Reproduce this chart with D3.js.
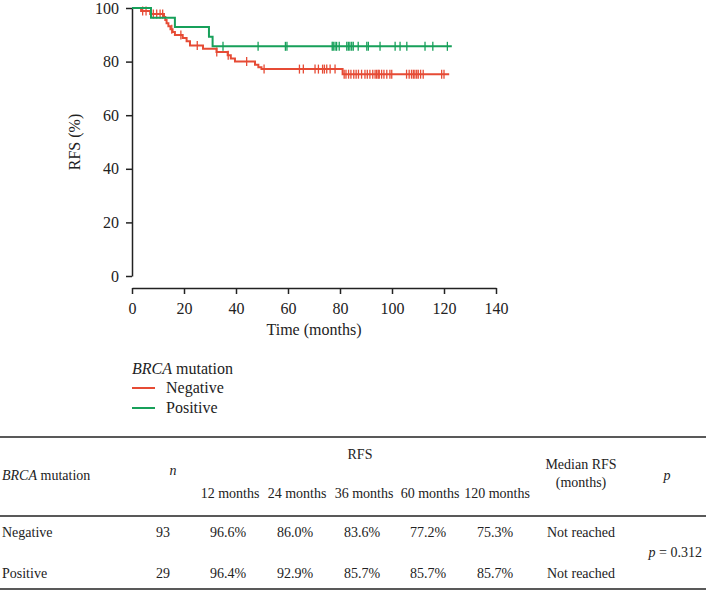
<!DOCTYPE html>
<html>
<head>
<script src="https://cdnjs.cloudflare.com/ajax/libs/d3/7.8.5/d3.min.js"></script>
<style>
  body { margin: 0; background: #fff; }
  text { font-family: "Liberation Serif", "DejaVu Serif", serif; fill: #222; }
</style>
</head>
<body>
<script>
// step points [month, RFS %]
const negSteps = [[0,100],[3.5,98.9],[7,97.8],[12.3,96.6],[12.8,95.5],[13.3,94.3],[14,93.2],[14.8,92.1],
  [15.6,91],[16.5,89.9],[19.5,88.8],[21,87.6],[22.3,86.0],[27.3,84.8],[32.5,83.6],[36.8,82.4],[38,81.2],
  [39.6,80.0],[47.3,78.8],[48.6,77.9],[49.8,77.2],[81,75.3],[122,75.3]];
const posSteps = [[0,100],[7.3,96.4],[16.5,92.9],[29.6,89.3],[31,85.7],[123,85.7]];

// censored times
const negCensor = [4.1,5.4,8.2,9.5,10.8,11.8,15.3,18.8,25.1,32.6,37,44.1,50.8,64.4,65.9,70.4,71.7,73.3,74,
  74.9,76.2,78.1,81.6,82.3,83.3,84.2,85.3,86.2,87.1,88.3,89.6,90.5,91.5,92.6,93.5,94.1,94.7,95.1,96,96.9,
  98,99.2,99.9,105.6,106.6,107.5,108.2,108.8,109.5,110.1,111,112,119.1,120];
const posCensor = [35,48.5,59,59.6,77,77.4,78.1,78.7,79.7,82.6,83.2,83.8,84.5,85.1,87,90.3,90.9,95.4,
  101.2,103.1,105.7,112.7,115.7,121.3];

const xTicks = [0,20,40,60,80,100,120,140];
const yTicks = [0,20,40,60,80,100];

const groups = ["Negative", "Positive"];
const colors = ["#e64b35", "#17a05a"];

// table
const timepoints = ["12 months","24 months","36 months","60 months","120 months"];
const nValues = [93, 29];
const rfsValues = [["96.6%","86.0%","83.6%","77.2%","75.3%"], ["96.4%","92.9%","85.7%","85.7%","85.7%"]];
const medianValues = ["Not reached", "Not reached"];
const pValue = "0.312";

const svg = d3.select("body").append("svg")
    .attr("width", 706)
    .attr("height", 591);

const x = d3.scaleLinear().domain([0, 140]).range([132, 496]);
const y = d3.scaleLinear().domain([0, 100]).range([276, 8]);

// y axis
const yAxis = svg.append("g")
    .attr("transform", "translate(132,0)")
    .call(d3.axisLeft(y).tickValues(yTicks).tickSize(6).tickPadding(7).tickSizeOuter(0));
// x axis, offset below
const xAxis = svg.append("g")
    .attr("transform", "translate(0,288)")
    .call(d3.axisBottom(x).tickValues(xTicks).tickSize(6).tickSizeOuter(0));

[yAxis, xAxis].forEach(function(a){
    a.select(".domain").attr("stroke", "#222").attr("stroke-width", 1.5);
    a.selectAll(".tick line").attr("stroke", "#222").attr("stroke-width", 1.5);
    a.selectAll(".tick text").style("font-size", "16px").attr("fill", "#222")
        .style("font-family", "Liberation Serif, serif");
});
xAxis.selectAll(".tick text").attr("dy", "1.05em");

svg.append("text")
    .attr("transform", "translate(80,142) rotate(-90)")
    .attr("text-anchor", "middle")
    .style("font-size", "16px")
    .text("RFS (%)");
svg.append("text")
    .attr("x", 314).attr("y", 335)
    .attr("text-anchor", "middle")
    .style("font-size", "16px")
    .text("Time (months)");

// curves
const stepLine = d3.line()
    .x(function(d){ return x(d[0]); })
    .y(function(d){ return y(d[1]); })
    .curve(d3.curveStepAfter);

function survAt(steps, t) {
    let v = steps[0][1];
    steps.forEach(function(s){ if (s[0] <= t) v = s[1]; });
    return v;
}

const curves = [[negSteps, negCensor], [posSteps, posCensor]];
curves.forEach(function(c, i){
    svg.append("path")
        .attr("d", stepLine(c[0]))
        .attr("fill", "none")
        .attr("stroke", colors[i])
        .attr("stroke-width", 2);
    svg.append("g").selectAll("line")
        .data(c[1])
        .enter()
        .append("line")
            .attr("x1", function(d){ return x(d); })
            .attr("x2", function(d){ return x(d); })
            .attr("y1", function(d){ return y(survAt(c[0], d)) - 4.5; })
            .attr("y2", function(d){ return y(survAt(c[0], d)) + 4.5; })
            .attr("stroke", colors[i])
            .attr("stroke-width", 1.3);
});

// legend
const legendTitle = svg.append("text")
    .attr("x", 132).attr("y", 374)
    .style("font-size", "16px");
legendTitle.append("tspan").style("font-style", "italic").text("BRCA");
legendTitle.append("tspan").text(" mutation");

groups.forEach(function(g, i){
    const ly = 388 + i * 20;
    svg.append("line")
        .attr("x1", 132).attr("x2", 155)
        .attr("y1", ly).attr("y2", ly)
        .attr("stroke", colors[i]).attr("stroke-width", 2);
    svg.append("text")
        .attr("x", 166).attr("y", ly + 5)
        .style("font-size", "16px")
        .text(g);
});

// table
const tbl = svg.append("g").style("font-size", "14px");
[437, 516, 589].forEach(function(ly){
    tbl.append("line")
        .attr("x1", 0).attr("x2", 706)
        .attr("y1", ly).attr("y2", ly)
        .attr("stroke", "#222").attr("stroke-width", 1.5);
});

const colX = [230, 297, 364, 430, 497];

const hdr = tbl.append("text").attr("x", 2).attr("y", 480);
hdr.append("tspan").style("font-style", "italic").text("BRCA");
hdr.append("tspan").text(" mutation");
tbl.append("text").attr("x", 173).attr("y", 475).attr("text-anchor", "middle")
    .style("font-style", "italic").text("n");
tbl.append("text").attr("x", 360).attr("y", 459).attr("text-anchor", "middle").text("RFS");
timepoints.forEach(function(t, i){
    tbl.append("text").attr("x", colX[i]).attr("y", 498).attr("text-anchor", "middle").text(t);
});
tbl.append("text").attr("x", 581).attr("y", 469).attr("text-anchor", "middle").text("Median RFS");
tbl.append("text").attr("x", 581).attr("y", 487).attr("text-anchor", "middle").text("(months)");
tbl.append("text").attr("x", 667).attr("y", 480).attr("text-anchor", "middle")
    .style("font-style", "italic").text("p");

groups.forEach(function(g, r){
    const ry = 537 + r * 41;
    tbl.append("text").attr("x", 2).attr("y", ry).text(g);
    tbl.append("text").attr("x", 170).attr("y", ry).attr("text-anchor", "end").text(nValues[r]);
    rfsValues[r].forEach(function(v, i){
        tbl.append("text").attr("x", colX[i] - 2).attr("y", ry).attr("text-anchor", "middle").text(v);
    });
    tbl.append("text").attr("x", 581).attr("y", ry).attr("text-anchor", "middle").text(medianValues[r]);
});
const pt = tbl.append("text").attr("x", 702).attr("y", 557).attr("text-anchor", "end");
pt.append("tspan").style("font-style", "italic").text("p");
pt.append("tspan").text(" = " + pValue);
</script>
</body>
</html>
